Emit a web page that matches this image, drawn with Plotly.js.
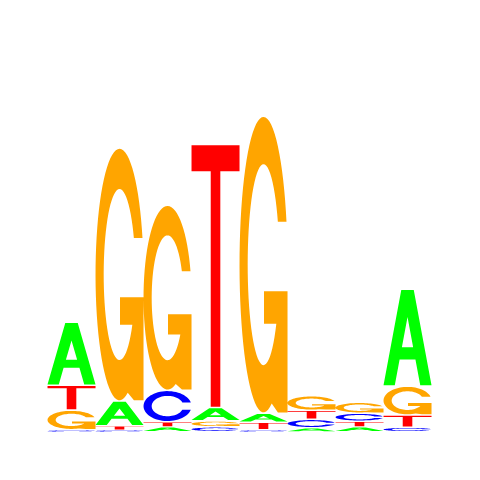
<!DOCTYPE html>
<html>
<head>
<meta charset="utf-8">
<script src="https://cdn.plot.ly/plotly-3.0.1.min.js"></script>
<style>
  html, body { margin: 0; padding: 0; background: #ffffff; }
  #logo { width: 480px; height: 480px; }
</style>
</head>
<body>
<div id="logo"></div>
<script>
// letter heights (bits) per position
const positions = [1, 2, 3, 4, 5, 6, 7, 8];
const bases = ['A', 'C', 'G', 'T'];
const heightA = [0.328, 0.128, 0.023, 0.070, 0.047, 0.018, 0.023, 0.505];
const heightC = [0.008, 0.008, 0.164, 0.023, 0.008, 0.044, 0.042, 0.021];
const heightG = [0.102, 1.318, 0.964, 0.031, 1.547, 0.076, 0.057, 0.151];
const heightT = [0.130, 0.021, 0.026, 1.370, 0.039, 0.047, 0.029, 0.063];

const heights = { A: heightA, C: heightC, G: heightG, T: heightT };
const baseColors = { A: '#00ff00', C: '#0000ff', G: '#ffa500', T: '#ff0000' };

// glyph outlines in a unit box (x 0..1, y 0..1)
function arc(cx, cy, rx, ry, a0, a1, n) {
    const pts = [];
    for (let i = 0; i <= n; i++) {
        const a = (a0 + (a1 - a0) * i / n) * Math.PI / 180;
        pts.push([cx + rx * Math.cos(a), cy + ry * Math.sin(a)]);
    }
    return pts;
}
const deg = r => r * 180 / Math.PI;
const RX_IN = 0.33, RY_IN = 0.34;

const glyphs = {
    A: [
        [[0, 0], [0.37, 1], [0.63, 1], [1, 0], [0.765, 0], [0.665, 0.27], [0.335, 0.27], [0.235, 0]],
        [[0.383, 0.40], [0.617, 0.40], [0.5, 0.716]]   // counter, opposite winding
    ],
    T: [
        [[0, 1], [1, 1], [1, 0.9], [0.6, 0.9], [0.6, 0], [0.4, 0], [0.4, 0.9], [0, 0.9]]
    ],
    C: (function() {
        const yc = 0.12;
        const ao = deg(Math.asin(yc / 0.5)), ai = deg(Math.asin(yc / RY_IN));
        const outer = arc(0.5, 0.5, 0.5, 0.5, ao, 360 - ao, 60);
        const inner = arc(0.5, 0.5, RX_IN, RY_IN, 360 - ai, ai, 60);
        return [outer.concat(inner)];
    })(),
    G: (function() {
        const ao = deg(Math.asin(0.145 / 0.5)), ai = deg(Math.asin(0.145 / RY_IN));
        const outer = arc(0.5, 0.5, 0.5, 0.5, ao, 290, 60);
        const aBar = deg(Math.asin(-0.2 / RY_IN));           // inner curve meets bar bottom
        const inner = arc(0.5, 0.5, RX_IN, RY_IN, aBar, ai - 360, 60);
        const xBar = 0.5 + RX_IN * Math.cos(aBar * Math.PI / 180);
        const stem = [[0.80, 0], [1, 0], [1, 0.41], [0.51, 0.41], [0.51, 0.30], [xBar, 0.30]];
        return [outer.concat(stem, inner)];
    })()
};

// stack letters, smallest at the bottom
const traceX = { A: [], C: [], G: [], T: [] };
const traceY = { A: [], C: [], G: [], T: [] };
positions.forEach((pos, i) => {
    const stack = bases.map(b => ({ base: b, h: heights[b][i] })).sort((p, q) => p.h - q.h);
    let y0 = 0;
    stack.forEach(item => {
        const gap = Math.min(0.008, item.h * 0.25);
        const bottom = y0 + gap, top = y0 + item.h;
        glyphs[item.base].forEach(ring => {
            ring.forEach(pt => {
                traceX[item.base].push(pos - 0.5 + pt[0]);
                traceY[item.base].push(bottom + pt[1] * (top - bottom));
            });
            traceX[item.base].push(null);
            traceY[item.base].push(null);
        });
        y0 = top;
    });
});

const traces = bases.map(b => ({
    x: traceX[b],
    y: traceY[b],
    type: 'scatter',
    mode: 'none',
    fill: 'toself',
    fillcolor: baseColors[b],
    hoverinfo: 'skip',
    name: b
}));

const layout = {
    width: 480,
    height: 480,
    paper_bgcolor: '#ffffff',
    plot_bgcolor: '#ffffff',
    margin: { l: 0, r: 0, t: 0, b: 0 },
    showlegend: false,
    xaxis: { range: [-0.49, 9.51], visible: false, showgrid: false, zeroline: false },
    yaxis: { range: [-0.25, 2.25], visible: false, showgrid: false, zeroline: false }
};

Plotly.newPlot('logo', traces, layout, { staticPlot: true, displayModeBar: false });
</script>
</body>
</html>
